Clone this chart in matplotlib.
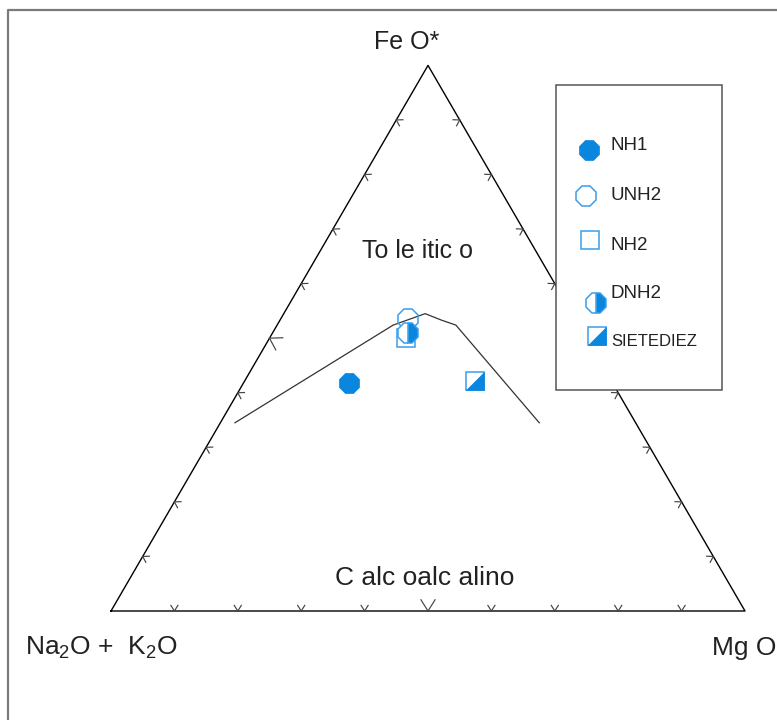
import numpy as np
import matplotlib.pyplot as plt
from matplotlib.path import Path
from matplotlib.patches import Rectangle

plt.rcParams['font.family'] = ['Liberation Sans Narrow', 'Liberation Sans', 'DejaVu Sans']
plt.rcParams['mathtext.fontset'] = 'custom'
plt.rcParams['mathtext.rm'] = 'Liberation Sans'

# AFM compositions, wt% normalised (Na2O+K2O, FeO*, MgO)
samples = ['NH1', 'UNH2', 'NH2', 'DNH2', 'SIETEDIEZ']
alk = [41.6, 26.3, 28.4, 27.7, 21.6]
feo = [41.7, 53.6, 50.1, 51.0, 42.1]
mgo = [16.7, 20.1, 21.5, 21.3, 36.3]

# tholeiitic / calc-alkaline dividing line
div_alk = [63.2, 29.3, 23.2, 21.2, 19.4, 15.2]
div_feo = [34.5, 52.4, 54.5, 53.3, 52.4, 34.5]
div_mgo = [2.3, 18.3, 22.3, 25.5, 28.2, 50.3]

tick_pct = [10, 20, 30, 40, 50, 60, 70, 80, 90]

H = np.sqrt(3) / 2


def tern(a, f, m):
    a, f, m = (np.asarray(v, dtype=float) for v in (a, f, m))
    s = a + f + m
    return (m + f / 2) / s, f * H / s


blue = '#0a86df'
light = '#3a9eea'
half_sq = Path([(-1, -1), (1, -1), (1, 1), (-1, -1)],
               [Path.MOVETO, Path.LINETO, Path.LINETO, Path.CLOSEPOLY])

styles = {
    'NH1': [dict(marker='8', ms=15.5, mfc=blue, mec=blue, mew=0.5)],
    'UNH2': [dict(marker='8', ms=15.5, mfc='none', mec=light, mew=1.1)],
    'NH2': [dict(marker='s', ms=13.5, mfc='none', mec=light, mew=1.1)],
    'DNH2': [dict(marker='8', ms=14.5, mfc=blue, mec=light, mew=1.1,
                  fillstyle='right', markerfacecoloralt='white')],
    'SIETEDIEZ': [dict(marker='s', ms=13.5, mfc='white', mec=light, mew=1.1),
                  dict(marker=half_sq, ms=13.5, mfc=blue, mec=blue, mew=0.5)],
}

fig = plt.figure(figsize=(7.77, 7.2), dpi=100)
ax = fig.add_axes([0, 0, 1, 1])
ax.set_xlim(-111 / 634, 666 / 634)
ax.set_ylim(-109 / 630, 611 / 630)
ax.axis('off')

# triangle
corners = np.array([[0, 0], [1, 0], [0.5, H], [0, 0]])
ax.plot(corners[:, 0], corners[:, 1], color='black', lw=1.0, zorder=2)

# edge ticks: small "v" marks pointing into the triangle
edges = [((0, 0), (1, 0), 90), ((0, 0), (0.5, H), -30), ((1, 0), (0.5, H), 210)]
for p0, p1, nang in edges:
    for t in tick_pct:
        px = p0[0] + (p1[0] - p0[0]) * t / 100
        py = p0[1] + (p1[1] - p0[1]) * t / 100
        L = 0.021 if t == 50 else 0.0105
        for d in (-32, 32):
            ang = np.radians(nang + d)
            ax.plot([px, px + L * np.cos(ang)], [py, py + L * np.sin(ang)],
                    color='#444444', lw=0.85, zorder=2)

# dividing line
dx, dy = tern(div_alk, div_feo, div_mgo)
ax.plot(dx, dy, color='#333333', lw=0.9, zorder=2)

# samples
sx, sy = tern(alk, feo, mgo)
for name, x, y in zip(samples, sx, sy):
    for st in styles[name]:
        ax.plot([x], [y], linestyle='none', zorder=3, **st)

# overlay in pixel space for frame, labels and key
ov = fig.add_axes([0, 0, 1, 1], zorder=3)
ov.set_xlim(0, 777)
ov.set_ylim(720, 0)
ov.axis('off')
ov.patch.set_alpha(0)

ov.plot([8, 8, 777], [720, 10, 10], color='#7a7a7a', lw=1.6, clip_on=False)

txt = '#222222'
ov.text(407, 42, 'Fe O*', ha='center', va='center', fontsize=18, color=txt)
ov.text(417, 251, 'To le itic o', ha='center', va='center', fontsize=18, color=txt)
ov.text(425, 578, 'C alc oalc alino', ha='center', va='center', fontsize=19, color=txt)
ov.text(25, 648, r'Na$_{2}$O +  K$_{2}$O', ha='left', va='center', fontsize=19, color=txt)
ov.text(776, 648, 'Mg O', ha='right', va='center', fontsize=19, color=txt)

# key
ov.add_patch(Rectangle((556, 85), 166, 305, facecolor='white', edgecolor='#555555', lw=1.1))
key_marker = [(589, 150), (586, 196), (590, 240), (596, 303), (597, 336)]
key_text = [146, 195, 245, 294, 342]
for name, (mx, my), ty in zip(samples, key_marker, key_text):
    for st in styles[name]:
        ov.plot([mx], [my], linestyle='none', **st)
    ov.text(611, ty, name, ha='left', va='center', fontsize=12 if name == 'SIETEDIEZ' else 13.5,
            color=txt)

fig.savefig('out.png', dpi=100)
